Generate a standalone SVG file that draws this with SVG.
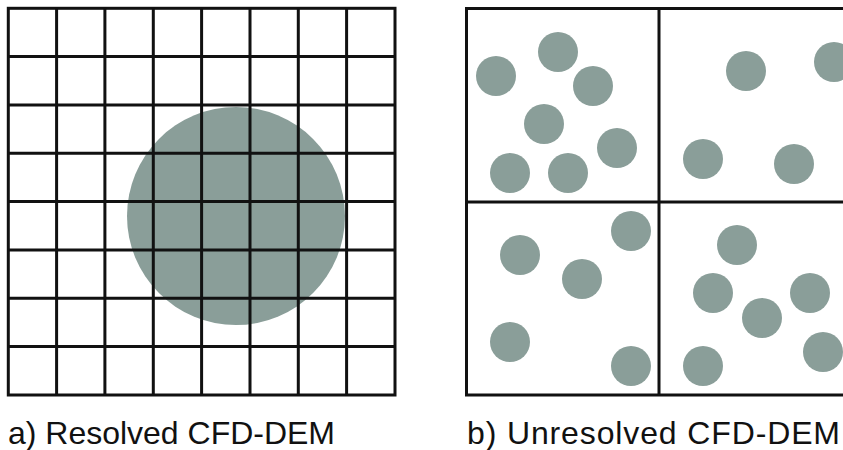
<svg xmlns="http://www.w3.org/2000/svg" width="843" height="450" viewBox="0 0 843 450">
<style>
.p{fill:#8a9e99}
.g{stroke:#111;stroke-width:3;fill:none}
.t{font-family:"Liberation Sans",Arial,sans-serif;font-size:32px;fill:#111}
</style>
<rect width="843" height="450" fill="#fff"/>
<g id="resolved">
<circle class="p" cx="236" cy="216" r="109"/>
<g class="g">
<rect x="8.3" y="8.3" width="386.7" height="386.7"/>
<path d="M56.6 8.3V395M104.9 8.3V395M153.3 8.3V395M201.6 8.3V395M250 8.3V395M298.3 8.3V395M346.6 8.3V395"/>
<path d="M8.3 56.6H395M8.3 104.9H395M8.3 153.3H395M8.3 201.6H395M8.3 250H395M8.3 298.3H395M8.3 346.6H395"/>
</g>
</g>
<g id="unresolved">
<g class="p">
<circle cx="496" cy="76" r="20"/>
<circle cx="558" cy="52" r="20"/>
<circle cx="593" cy="86" r="20"/>
<circle cx="544" cy="124" r="20"/>
<circle cx="617" cy="148" r="20"/>
<circle cx="510" cy="173" r="20"/>
<circle cx="568" cy="173" r="20"/>
<circle cx="746" cy="71" r="20"/>
<circle cx="834" cy="62" r="20"/>
<circle cx="703" cy="159" r="20"/>
<circle cx="794" cy="164" r="20"/>
<circle cx="520" cy="255" r="20"/>
<circle cx="631" cy="231" r="20"/>
<circle cx="582" cy="279" r="20"/>
<circle cx="510" cy="342" r="20"/>
<circle cx="631" cy="366" r="20"/>
<circle cx="737" cy="245" r="20"/>
<circle cx="713" cy="293" r="20"/>
<circle cx="762" cy="318" r="20"/>
<circle cx="810" cy="293" r="20"/>
<circle cx="823" cy="352" r="20"/>
<circle cx="703" cy="366" r="20"/>
</g>
<g class="g">
<rect x="466.5" y="8.5" width="400" height="386.5"/>
<path d="M659 8.5V395M466.5 202H843"/>
</g>
</g>
<g id="labels">
<text class="t" x="8" y="444" textLength="327" lengthAdjust="spacing">a) Resolved CFD-DEM</text>
<text class="t" x="467" y="444" textLength="373" lengthAdjust="spacing">b) Unresolved CFD-DEM</text>
</g>
</svg>
